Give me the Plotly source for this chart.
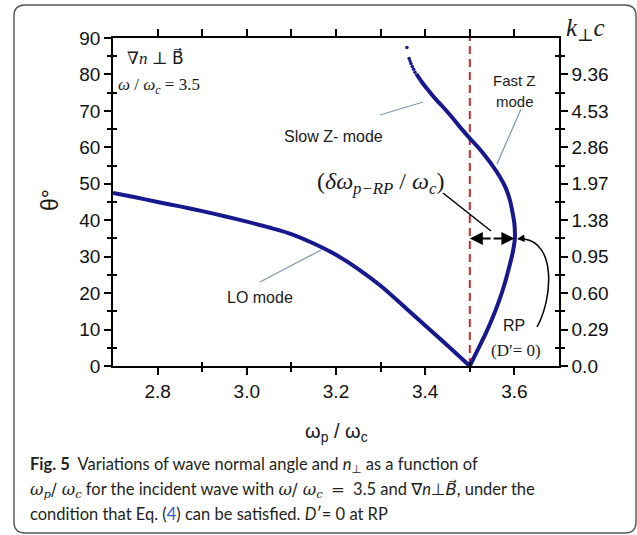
import plotly.graph_objects as go

# ---------------- data ----------------
lo_x = [2.70, 2.75, 2.80, 2.85, 2.90, 2.95, 3.00, 3.05, 3.10, 3.15, 3.20,
        3.25, 3.30, 3.35, 3.40, 3.45, 3.50]
lo_theta = [47.5, 46.3, 45.0, 43.8, 42.5, 41.1, 39.6, 38.0, 36.2, 33.6, 30.5,
            26.6, 22.0, 16.6, 11.1, 5.6, 0.0]

z_x = [3.500, 3.518, 3.536, 3.552, 3.566, 3.578, 3.588, 3.596, 3.601, 3.600,
       3.596, 3.590, 3.580, 3.567, 3.552, 3.536, 3.520, 3.502, 3.482, 3.462,
       3.442, 3.423, 3.406, 3.392, 3.380]
z_theta = [0.0, 4.5, 9.0, 13.5, 18.0, 22.5, 27.0, 31.0, 35.0, 39.0,
           42.0, 45.5, 49.0, 52.0, 54.8, 57.4, 59.8, 62.2, 65.0, 68.0,
           70.8, 73.3, 75.8, 78.0, 80.2]
z_dot_x = [3.359, 3.364, 3.366, 3.368, 3.371, 3.374, 3.377]
z_dot_theta = [87.4, 84.4, 83.7, 83.0, 82.2, 81.4, 80.6]

omega_ratio = 3.5
rp_theta = 35.0
rp_x = 3.6

x_ticks = [2.8, 3.0, 3.2, 3.4, 3.6]
x_ticklabels = ["2.8", "3.0", "3.2", "3.4", "3.6"]
x_minor = [2.9, 3.1, 3.3, 3.5]
x_top = [2.8, 2.9, 3.0, 3.1, 3.2, 3.3, 3.4, 3.5, 3.6]
theta_ticks = [0, 10, 20, 30, 40, 50, 60, 70, 80, 90]
theta_minor = [5, 15, 25, 35, 45, 55, 65, 75, 85]
kc_ticks = [0, 10, 20, 30, 40, 50, 60, 70, 80]
kc_labels = ["0.0", "0.29", "0.60", "0.95", "1.38", "1.97", "2.86", "4.53", "9.36"]

# ---------------- layout geometry ----------------
W, H = 637, 535
L, R, T, B = 113, 78, 38, 169
PW, PH = W - L - R, H - T - B
YB = H - B
XR = [2.7, 3.7]
YR = [0, 90]


def ppx(xp):
    return (xp - L) / PW


def ppy(yp):
    return (YB - yp) / PH


def dx(xp):
    return XR[0] + (xp - L) / PW * (XR[1] - XR[0])


def dy(yp):
    return (YB - yp) / PH * (YR[1] - YR[0])


CURVE = "#17178e"
POINTER = "#8399b3"
SANS = "Liberation Sans, Arial, DejaVu Sans, sans-serif"
SERIF = "Liberation Serif, DejaVu Serif, serif"

fig = go.Figure()

fig.add_trace(go.Scatter(x=[omega_ratio, omega_ratio], y=YR, mode="lines",
                         line=dict(color="#cc2a2a", width=2, dash="8px,5px"),
                         hoverinfo="skip", showlegend=False))
fig.add_trace(go.Scatter(x=lo_x, y=lo_theta, mode="lines",
                         line=dict(color=CURVE, width=4, shape="spline", smoothing=0.8),
                         showlegend=False))
fig.add_trace(go.Scatter(x=z_x, y=z_theta, mode="lines",
                         line=dict(color=CURVE, width=4, shape="spline", smoothing=0.8),
                         showlegend=False))
fig.add_trace(go.Scatter(x=z_dot_x, y=z_dot_theta, mode="markers",
                         marker=dict(color=CURVE, size=3.5),
                         showlegend=False))

# helper traces so the overlay axes are drawn
fig.add_trace(go.Scatter(x=[None], y=[None], xaxis="x2", yaxis="y2", showlegend=False))
fig.add_trace(go.Scatter(x=[None], y=[None], xaxis="x3", yaxis="y3", showlegend=False))
fig.add_trace(go.Scatter(x=[None], y=[None], xaxis="x3", yaxis="y4", showlegend=False))

tickfont = dict(family=SANS, size=19, color="#111")
common = dict(showgrid=False, zeroline=False, fixedrange=True)

fig.update_layout(
    width=W, height=H,
    margin=dict(l=L, r=R, t=T, b=B, pad=0),
    paper_bgcolor="white", plot_bgcolor="white",
    xaxis=dict(range=XR, tickmode="array", tickvals=x_ticks, ticktext=x_ticklabels,
               ticks="outside", ticklen=7, tickwidth=1.5, tickcolor="black",
               showline=True, linecolor="black", linewidth=1.5, tickfont=tickfont,
               minor=dict(tickmode="array", tickvals=x_minor, ticks="outside",
                          ticklen=4, tickwidth=1.5, tickcolor="black", showgrid=False),
               **common),
    xaxis2=dict(range=XR, overlaying="x", side="top", tickmode="array", tickvals=x_top,
                ticks="outside", ticklen=7, tickwidth=1.5, tickcolor="black",
                showticklabels=False, showline=True, linecolor="black", linewidth=1.5,
                **common),
    xaxis3=dict(range=XR, overlaying="x", side="bottom", tickmode="array", tickvals=x_minor,
                ticks="inside", ticklen=4, tickwidth=1.5, tickcolor="black",
                showticklabels=False, showline=False, **common),
    yaxis=dict(range=YR, tickmode="array", tickvals=theta_ticks,
               ticks="outside", ticklen=7, tickwidth=1.5, tickcolor="black",
               showline=True, linecolor="black", linewidth=1.5, tickfont=tickfont,
               minor=dict(tickmode="array", tickvals=theta_minor, ticks="outside",
                          ticklen=4, tickwidth=1.5, tickcolor="black", showgrid=False),
               **common),
    yaxis2=dict(range=YR, overlaying="y", side="right", tickmode="array",
                tickvals=kc_ticks, ticktext=kc_labels,
                ticks="outside", ticklen=7, tickwidth=1.5, tickcolor="black",
                showline=True, linecolor="black", linewidth=1.5, tickfont=tickfont,
                minor=dict(tickmode="array", tickvals=theta_minor, ticks="outside",
                           ticklen=4, tickwidth=1.5, tickcolor="black", showgrid=False),
                **common),
    yaxis3=dict(range=YR, overlaying="y", side="left", tickmode="array", tickvals=theta_minor,
                ticks="inside", ticklen=4, tickwidth=1.5, tickcolor="black",
                showticklabels=False, showline=False, **common),
    yaxis4=dict(range=YR, overlaying="y", side="right", tickmode="array", tickvals=theta_minor,
                ticks="inside", ticklen=4, tickwidth=1.5, tickcolor="black",
                showticklabels=False, showline=False, **common),
    showlegend=False,
)

# ---------------- decorations ----------------
shapes = []


def seg(x0, y0, x1, y1, color, width):
    shapes.append(dict(type="line", xref="paper", yref="paper",
                       x0=ppx(x0), y0=ppy(y0), x1=ppx(x1), y1=ppy(y1),
                       line=dict(color=color, width=width)))


seg(380, 115, 423, 102, POINTER, 1.3)     # slow Z pointer
seg(521, 109, 497, 164, POINTER, 1.3)     # fast Z pointer
seg(260, 282, 321, 250, POINTER, 1.3)     # LO pointer
seg(443, 193, 491, 231, "black", 1.5)     # delta omega pointer

# curved arrow from RP label
shapes.append(dict(type="path", xref="paper", yref="paper",
                   path="M {},{} C {},{} {},{} {},{}".format(
                       ppx(537), ppy(327), ppx(553), ppy(298),
                       ppx(556), ppy(243), ppx(524), ppy(239)),
                   line=dict(color="black", width=1.5)))

# rounded frame
fx0, fx1, fy0, fy1, r = 14, 636, 5, 533, 11
pts = [("M", fx0 + r, fy0), ("L", fx1 - r, fy0), ("Q", fx1, fy0, fx1, fy0 + r),
       ("L", fx1, fy1 - r), ("Q", fx1, fy1, fx1 - r, fy1), ("L", fx0 + r, fy1),
       ("Q", fx0, fy1, fx0, fy1 - r), ("L", fx0, fy0 + r), ("Q", fx0, fy0, fx0 + r, fy0)]
path = ""
for p in pts:
    cmd = p[0]
    coords = p[1:]
    s = " ".join("{:.5f},{:.5f}".format(ppx(coords[i]), ppy(coords[i + 1]))
                 for i in range(0, len(coords), 2))
    path += cmd + " " + s + " "
shapes.append(dict(type="path", xref="paper", yref="paper", path=path + "Z",
                   line=dict(color="#555555", width=1.4)))
fig.update_layout(shapes=shapes)

ann = []


def text(xp, yp, t, size, family=SANS, xanchor="center", color="#1a1a1a", angle=0):
    ann.append(dict(x=ppx(xp), y=ppy(yp), xref="paper", yref="paper", text=t,
                    showarrow=False, xanchor=xanchor, yanchor="middle",
                    textangle=angle, font=dict(family=family, size=size, color=color)))


text(155, 57, "∇<i>n</i> <span style='font-family:DejaVu Serif'>⊥</span> "
     "<span style='font-family:DejaVu Sans'>B\u20d7</span>", 17, SERIF)
text(159, 86, "<i>ω</i> / <i>ω<sub>c</sub></i> = 3.5", 17, SERIF)
text(333, 136, "Slow Z- mode", 16)
text(514, 80, "Fast Z", 15)
text(515, 102, "mode", 15)
text(260, 297, "LO mode", 16)
text(380, 183, "(<i>δω<sub>p−RP</sub></i> / <i>ω<sub>c</sub></i>)", 24, SERIF)
text(514, 325, "RP", 16)
text(516, 350, "(D′= 0)", 17, SERIF)
text(585, 30, "<i>k</i><sub>⊥</sub><i>c</i>", 25, SERIF)
text(50, 200, "θ°", 23, SANS, angle=-90)
text(336, 432, "ω<sub>p</sub> / ω<sub>c</sub>", 20)

CAP = "Lato, Liberation Sans, DejaVu Sans, sans-serif"
MATH = "<span style='font-family:DejaVu Serif'>{}</span>"
text(28, 464, "<b>Fig. 5</b>  Variations of wave normal angle and <i>n</i><sub>⊥</sub> as a function of",
     16.5, CAP, xanchor="left", color="#231f20")
text(28, 490,
     MATH.format("<i>ω<sub>p</sub></i>/ <i>ω<sub>c</sub></i>") + " for the incident wave with "
     + MATH.format("<i>ω</i>/ <i>ω<sub>c</sub></i>\u2002=\u2002") + "3.5 and ∇<i>n</i>⊥"
     "<span style='font-family:DejaVu Sans'><i>B\u20d7</i></span>, under the",
     16.5, CAP, xanchor="left", color="#231f20")
text(28, 514, "condition that Eq. (<span style='color:#3b5bc4'>4</span>) can be satisfied. <i>D</i>′= 0 at RP",
     16.5, CAP, xanchor="left", color="#231f20")

# double arrow (delta omega) and RP arrowhead
for x_tip in (omega_ratio, rp_x):
    ann.append(dict(x=x_tip, y=rp_theta, xref="x", yref="y",
                    ax=(omega_ratio + rp_x) / 2, ay=rp_theta, axref="x", ayref="y",
                    text="", showarrow=True, arrowhead=2, arrowsize=1.3,
                    arrowwidth=2, arrowcolor="black"))
ann.append(dict(x=dx(517), y=dy(239), xref="x", yref="y", ax=9, ay=-1,
                text="", showarrow=True, arrowhead=2, arrowsize=1.0,
                arrowwidth=1.5, arrowcolor="black"))

fig.update_layout(annotations=ann)

fig.write_html("out.html")
